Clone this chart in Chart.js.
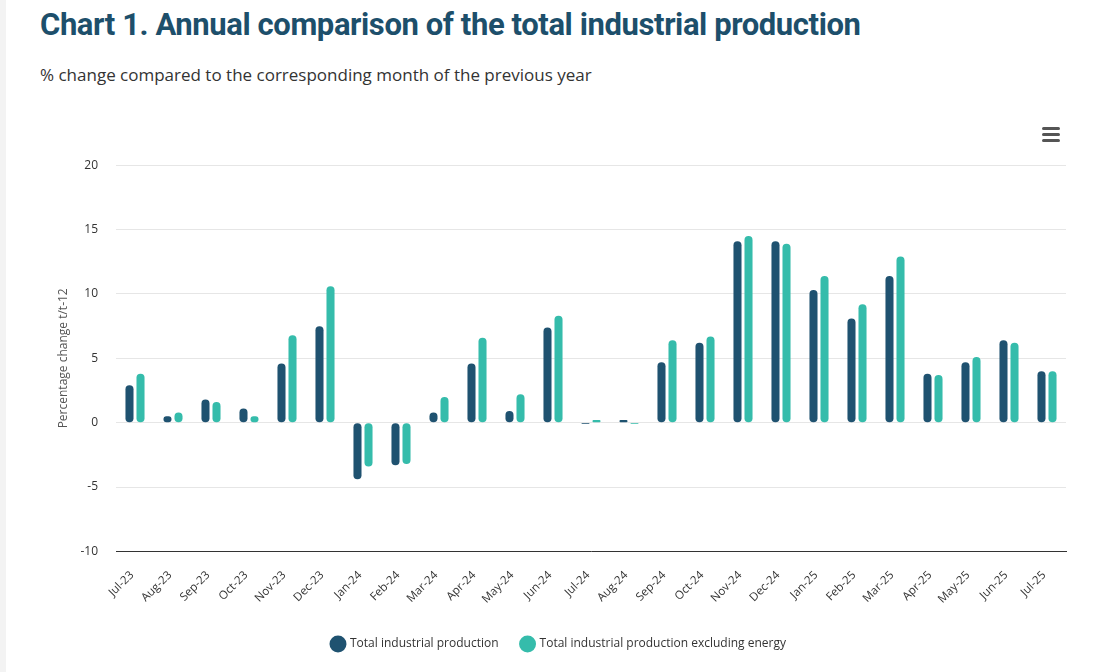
<!DOCTYPE html>
<html lang="en">
<head>
    <meta charset="UTF-8">
    <title>Annual comparison of the total industrial production</title>
    <script src="https://cdn.jsdelivr.net/npm/chart.js@4.4.1/dist/chart.umd.min.js"></script>
    <style>
        html, body { margin: 0; padding: 0; background: #fff; }
        body { width: 1107px; height: 672px; position: relative; overflow: hidden; font-family: Roboto, "Open Sans", sans-serif; }
        .edge { position: absolute; left: 0; top: 0; width: 6px; height: 672px; background: #f3f3f3; }
        h1 { position: absolute; left: 40px; top: 6px; margin: 0; font-size: 31px; font-weight: 700; color: #1d4f6b; letter-spacing: -0.4px; }
        .sub { position: absolute; left: 40px; top: 63px; margin: 0; font-family: "Open Sans", sans-serif; font-size: 17px; color: #333; }
        .menu { position: absolute; left: 1042px; top: 127px; width: 18px; }
        .menu span { display: block; height: 3px; background: #555; border-radius: 2px; margin-bottom: 3px; }
        .chart-box { position: absolute; left: 40px; top: 140px; width: 1040px; height: 520px; }
    </style>
</head>
<body>
    <div class="edge"></div>
    <h1>Chart 1. Annual comparison of the total industrial production</h1>
    <p class="sub">% change compared to the corresponding month of the previous year</p>
    <div class="menu"><span></span><span></span><span></span></div>
    <div class="chart-box"><canvas id="prodChart"></canvas></div>
    <script>
    // months and values
    const months = ['Jul-23', 'Aug-23', 'Sep-23', 'Oct-23', 'Nov-23', 'Dec-23', 'Jan-24', 'Feb-24', 'Mar-24',
        'Apr-24', 'May-24', 'Jun-24', 'Jul-24', 'Aug-24', 'Sep-24', 'Oct-24', 'Nov-24', 'Dec-24',
        'Jan-25', 'Feb-25', 'Mar-25', 'Apr-25', 'May-25', 'Jun-25', 'Jul-25'];
    const totalProd = [2.9, 0.5, 1.8, 1.1, 4.6, 7.5, -4.4, -3.3, 0.8, 4.6, 0.9, 7.4, -0.1, 0.2, 4.7, 6.2,
        14.1, 14.1, 10.3, 8.1, 11.4, 3.8, 4.7, 6.4, 4.0];
    const exclEnergy = [3.8, 0.8, 1.6, 0.5, 6.8, 10.6, -3.4, -3.2, 2.0, 6.6, 2.2, 8.3, 0.2, -0.1, 6.4, 6.7,
        14.5, 13.9, 11.4, 9.2, 12.9, 3.7, 5.1, 6.2, 4.0];
    const yTicks = [-10, -5, 0, 5, 10, 15, 20];

    document.addEventListener('DOMContentLoaded', function() {
        const ctx = document.getElementById('prodChart').getContext('2d');
        new Chart(ctx, {
            type: 'bar',
            data: {
                labels: months,
                datasets: [{
                    label: 'Total industrial production',
                    data: totalProd,
                    backgroundColor: '#1f5270',
                    borderRadius: 4,
                    borderSkipped: false,
                    categoryPercentage: 0.58,
                    barPercentage: 0.73
                }, {
                    label: 'Total industrial production excluding energy',
                    data: exclEnergy,
                    backgroundColor: '#35bcab',
                    borderRadius: 4,
                    borderSkipped: false,
                    categoryPercentage: 0.58,
                    barPercentage: 0.73
                }]
            },
            options: {
                responsive: true,
                maintainAspectRatio: false,
                animation: false,
                devicePixelRatio: 1,
                layout: { padding: { left: 12, right: 14, top: 5, bottom: 0 } },
                plugins: {
                    legend: {
                        position: 'bottom',
                        labels: {
                            usePointStyle: true,
                            pointStyle: 'circle',
                            boxWidth: 12,
                            boxHeight: 12,
                            padding: 23,
                            color: '#333',
                            font: { family: 'Open Sans', size: 12 }
                        }
                    },
                    tooltip: { enabled: false }
                },
                scales: {
                    x: {
                        grid: { display: false },
                        border: { display: true, color: '#333', width: 1 },
                        afterFit: function(scale) {
                            // rotated labels should not push the plot to the right
                            scale.paddingLeft = 0;
                            scale.paddingRight = 0;
                        },
                        ticks: {
                            minRotation: 45,
                            maxRotation: 45,
                            padding: 9,
                            labelOffset: -3,
                            color: '#333',
                            font: { family: 'Open Sans', size: 11.5 }
                        }
                    },
                    y: {
                        min: -10,
                        max: 20,
                        afterBuildTicks: function(axis) {
                            axis.ticks = yTicks.map(function(v) { return { value: v }; });
                        },
                        afterFit: function(scale) {
                            scale.width = 64;
                        },
                        grid: { color: '#e6e6e6', drawTicks: false },
                        border: { display: false },
                        ticks: {
                            padding: 18,
                            color: '#333',
                            font: { family: 'Open Sans', size: 12 }
                        },
                        title: {
                            display: true,
                            text: 'Percentage change t/t-12',
                            color: '#555',
                            padding: { top: 4, bottom: 1 },
                            font: { family: 'Open Sans', size: 12 }
                        }
                    }
                }
            }
        });
    });
    </script>
</body>
</html>
